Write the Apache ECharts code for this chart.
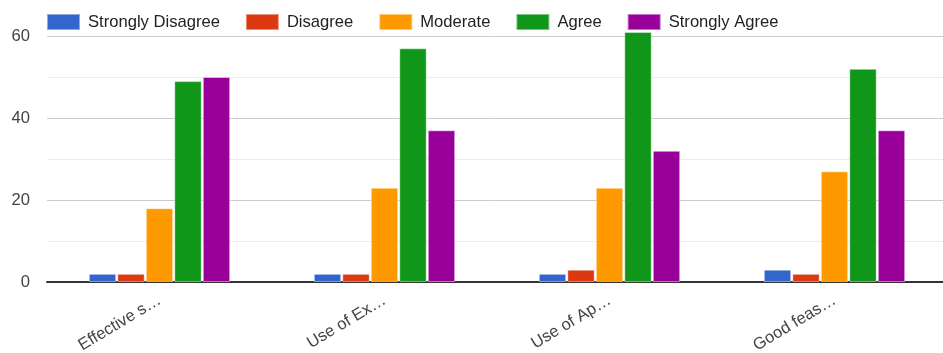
<!DOCTYPE html>
<html>
<head>
<meta charset="utf-8">
<script src="https://cdn.jsdelivr.net/npm/echarts@6/dist/echarts.min.js"></script>
<style>
html,body{margin:0;padding:0;background:#fff;}
#chart{width:943px;height:353px;}
</style>
</head>
<body>
<div id="chart"></div>
<script>
const categories = ['Effective s…', 'Use of Ex…', 'Use of Ap…', 'Good feas…'];
const seriesNames = ['Strongly Disagree', 'Disagree', 'Moderate', 'Agree', 'Strongly Agree'];
const stronglyDisagree = [2, 2, 2, 3];
const disagree = [2, 2, 3, 2];
const moderate = [18, 23, 23, 27];
const agree = [49, 57, 61, 52];
const stronglyAgree = [50, 37, 32, 37];
const yTickLabels = [0, 20, 40, 60];
const colors = ['#3366cc', '#dc3912', '#ff9900', '#109618', '#990099'];

const values = [stronglyDisagree, disagree, moderate, agree, stronglyAgree];
const font = '"Liberation Sans", Arial, sans-serif';

const chart = echarts.init(document.getElementById('chart'), null, {renderer: 'canvas'});
chart.setOption({
  animation: false,
  color: colors,
  legend: {
    top: 8,
    left: 41,
    itemWidth: 33,
    itemHeight: 16,
    itemGap: 25,
    icon: 'rect',
    textStyle: {fontFamily: font, fontSize: 16.6, color: '#222', padding: [0, 0, 0, 3]},
    data: seriesNames
  },
  grid: {left: 47, right: -4, top: 36, bottom: 71, containLabel: false, outerBoundsMode: 'none'},
  xAxis: {
    type: 'category',
    data: categories,
    axisLine: {lineStyle: {color: '#333', width: 2}},
    axisTick: {show: false},
    axisLabel: {rotate: 31, fontFamily: font, fontSize: 16.6, color: '#444', margin: 17}
  },
  yAxis: {
    type: 'value',
    min: 0,
    max: 60,
    interval: 10,
    axisLine: {show: false},
    axisTick: {show: false},
    axisLabel: {
      fontFamily: font, fontSize: 16.6, color: '#444', margin: 17,
      formatter: v => yTickLabels.indexOf(v) >= 0 ? String(v) : ''
    },
    splitLine: {lineStyle: {color: ['#cccccc', '#ebebeb'], width: 1}}
  },
  series: seriesNames.map((name, i) => ({
    name: name,
    type: 'bar',
    data: values[i],
    clip: false,
    barWidth: 27.4,
    barGap: '4%',
    itemStyle: {borderColor: 'rgba(255,255,255,0.45)', borderWidth: 1}
  }))
});
</script>
</body>
</html>
